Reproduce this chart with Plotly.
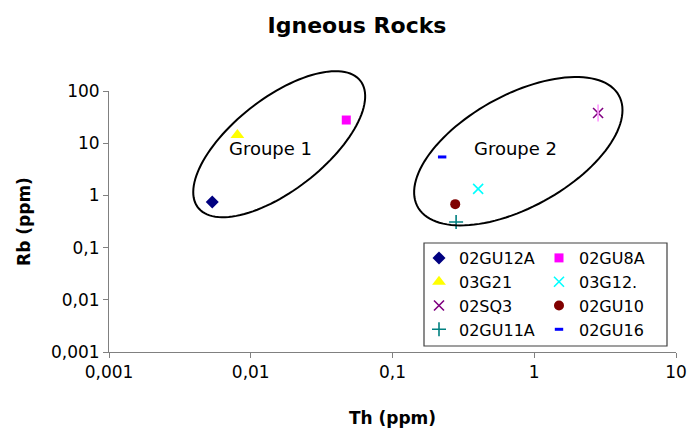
import numpy as np
import plotly.graph_objects as go

# ---------------- data ----------------
samples = ["02GU12A", "02GU8A", "03G21", "03G12.", "02SQ3", "02GU10", "02GU11A", "02GU16"]
th_ppm = [0.00535, 0.0472, 0.00805, 0.402, 2.82, 0.277, 0.281, 0.224]
rb_ppm = [0.75, 27.8, 14.4, 1.33, 37.9, 0.68, 0.31, 5.45]
x_tickvals = [0.001, 0.01, 0.1, 1, 10]
x_ticktext = ["0,001", "0,01", "0,1", "1", "10"]
y_tickvals = [0.001, 0.01, 0.1, 1, 10, 100]
y_ticktext = ["0,001", "0,01", "0,1", "1", "10", "100"]
group_labels = ["Groupe 1", "Groupe 2"]

# ---------------- styles ----------------
W, H = 689, 432
ML, MR, MT, MB = 109, 13, 91, 80
PW, PH = W - ML - MR, H - MT - MB
FONT = "DejaVu Sans"

def px2paper(px, py):
    return (px - ML) / PW, 1 - (py - MT) / PH

styles = [
    dict(symbol="diamond", size=10, color="#000080", line=dict(width=0)),
    dict(symbol="square", size=9, color="#FF00FF", line=dict(width=0)),
    dict(symbol="triangle-up", size=12, color="#FFFF00", line=dict(width=0)),
    dict(symbol="x-thin-open", size=10, color="#00FFFF", line=dict(width=1.6, color="#00FFFF")),
    dict(symbol="x-thin-open", size=10, color="#800080", line=dict(width=1.6, color="#800080")),
    dict(symbol="circle", size=10, color="#800000", line=dict(width=0)),
    dict(symbol="cross-thin-open", size=10, color="#008080", line=dict(width=1.6, color="#008080")),
    dict(symbol="line-ew-open", size=6, color="#0000FF", line=dict(width=3, color="#0000FF")),
]

fig = go.Figure()
for i, name in enumerate(samples):
    fig.add_trace(go.Scatter(
        x=[th_ppm[i]], y=[rb_ppm[i]], mode="markers", name=name,
        marker=styles[i], legend="legend" if i % 2 == 0 else "legend2",
    ))
# vertical bar for the star marker of 02SQ3
fig.add_trace(go.Scatter(
    x=[th_ppm[4]], y=[rb_ppm[4]], mode="markers", showlegend=False,
    marker=dict(symbol="line-ns-open", size=12, line=dict(width=1.6, color="#800080")),
))

# ---------------- ellipses ----------------
def ellipse_path(cx, cy, a, b, theta_deg, n=120):
    t = np.linspace(0, 2 * np.pi, n)
    th = np.radians(theta_deg)
    xs = cx + a * np.cos(t) * np.cos(th) - b * np.sin(t) * np.sin(th)
    ys = cy - (a * np.cos(t) * np.sin(th) + b * np.sin(t) * np.cos(th))
    pts = [px2paper(x, y) for x, y in zip(xs, ys)]
    return "M " + " L ".join(f"{p[0]:.5f},{p[1]:.5f}" for p in pts) + " Z"

shapes = [
    dict(type="path", xref="paper", yref="paper",
         path=ellipse_path(279.2, 144.2, 103, 46, 38), line=dict(color="black", width=2)),
    dict(type="path", xref="paper", yref="paper",
         path=ellipse_path(518.3, 151.2, 115, 56, 29), line=dict(color="black", width=2)),
]
lx0, ly0 = px2paper(424, 346)
lx1, ly1 = px2paper(667, 243)
shapes.append(dict(type="rect", xref="paper", yref="paper", x0=lx0, y0=ly0, x1=lx1, y1=ly1,
                   line=dict(color="#404040", width=1.2), fillcolor="white", layer="below"))

annotations = []
for label, (px, py) in zip(group_labels, [(270, 148), (515, 148)]):
    ax, ay = px2paper(px, py)
    annotations.append(dict(text=label, x=ax, y=ay, xref="paper", yref="paper",
                            showarrow=False, font=dict(family=FONT, size=18, color="black"),
                            xanchor="center", yanchor="middle"))

axis_common = dict(type="log", showgrid=False, zeroline=False, showline=True, automargin=False,
                   linecolor="#808080", linewidth=1, ticks="outside", ticklen=5,
                   tickcolor="#808080", tickwidth=1,
                   tickfont=dict(family=FONT, size=17, color="black"))

leg1x, legy = px2paper(419, 241)
leg2x, _ = px2paper(539, 241)

fig.update_layout(
    width=W, height=H, margin=dict(l=ML, r=MR, t=MT, b=MB, autoexpand=False),
    paper_bgcolor="white", plot_bgcolor="white",
    font=dict(family=FONT, color="black"),
    title=dict(text="<b>Igneous Rocks</b>", x=357 / W, xref="container", xanchor="center",
               y=1 - 25 / H, yref="container", yanchor="middle",
               font=dict(family=FONT, size=22, color="black")),
    xaxis=dict(range=[-3, 1], tickvals=x_tickvals, ticktext=x_ticktext,
               title=dict(text="<b>Th (ppm)</b>", font=dict(family=FONT, size=17), standoff=30),
               **axis_common),
    yaxis=dict(range=[-3, 2], tickvals=y_tickvals, ticktext=y_ticktext,
               title=dict(text="<b>Rb (ppm)</b>", font=dict(family=FONT, size=17), standoff=15),
               **axis_common),
    legend=dict(x=leg1x, y=legy, xanchor="left", yanchor="top", bgcolor="rgba(0,0,0,0)",
                borderwidth=0, font=dict(family=FONT, size=16, color="black"), tracegroupgap=0),
    legend2=dict(x=leg2x, y=legy, xanchor="left", yanchor="top", bgcolor="rgba(0,0,0,0)",
                 borderwidth=0, font=dict(family=FONT, size=16, color="black"), tracegroupgap=0),
    shapes=shapes, annotations=annotations,
)

fig.write_html("out.html", config={"displayModeBar": False},
               post_script="document.body.style.margin='0';document.body.style.padding='0';")
